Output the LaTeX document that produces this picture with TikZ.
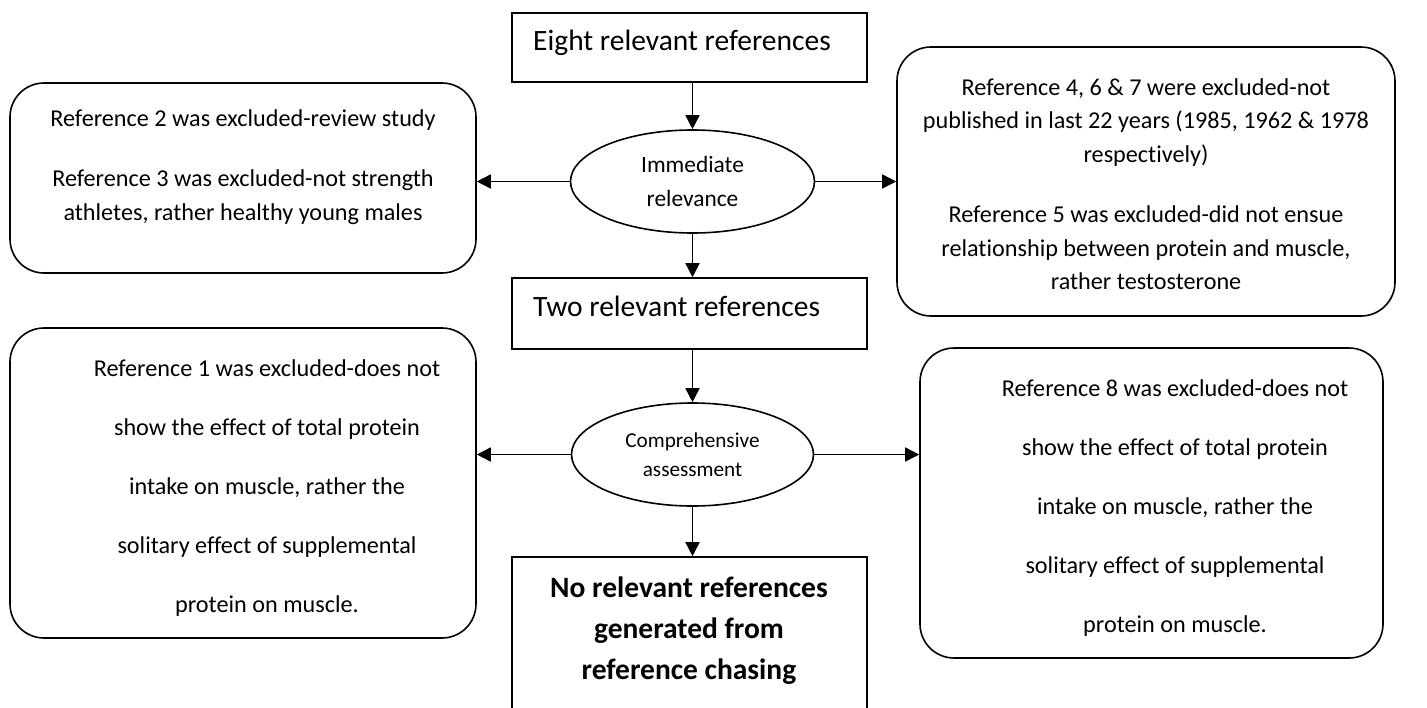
\documentclass[tikz,border=0pt]{standalone}
\usepackage{fontspec}
\setmainfont{Carlito}[Ligatures=NoCommon]
\usetikzlibrary{shapes.geometric,arrows.meta}
\begin{document}
\begin{tikzpicture}[x=1pt,y=-1pt,
  lw/.style={line width=1.6pt},
  sqbox/.style={draw,lw,rectangle,inner sep=0pt},
  rbox/.style={draw,lw,rectangle,rounded corners=34pt,inner sep=0pt},
  oval/.style={draw,lw,ellipse,inner sep=0pt,align=center},
  arr/.style={lw,-{Triangle[length=14pt,width=14pt]}},
  txt/.style={align=center,inner sep=0pt}
]
\useasboundingbox (0,0) rectangle (1427,707);
% central column
\node[sqbox,minimum width=355pt,minimum height=69pt] (top) at (689.5,47.5) {};
\node[anchor=base west,inner sep=0pt,font=\fontsize{29.5}{34}\selectfont] (toptxt) at (533,50.7) {Eight relevant references};
\node[oval,minimum width=244pt,minimum height=103pt,font=\fontsize{23.4}{33.3}\selectfont] (e1) at (692.5,181.5) {Immediate\\relevance};
\node[sqbox,minimum width=355pt,minimum height=71pt] (mid) at (689.5,313.5) {};
\node[anchor=base west,inner sep=0pt,font=\fontsize{29.5}{34}\selectfont] (midtxt) at (533,316.7) {Two relevant references};
\node[oval,minimum width=242pt,minimum height=103pt,font=\fontsize{21.2}{29.3}\selectfont] (e2) at (692.5,454.5) {Comprehensive\\assessment};
\node[sqbox,minimum width=355pt,minimum height=173pt] (bot) at (689.5,643.5) {};
\node[txt,font=\bfseries\fontsize{29.5}{41}\selectfont] (bottxt) at (689,630.5) {No relevant references\\generated from\\reference chasing};
% side boxes
\node[rbox,minimum width=466pt,minimum height=190pt] (lb1) at (243,178) {};
\node[txt,font=\fontsize{24.2}{34}\selectfont] (lb1txt) at (243,167) {Reference 2 was excluded-review study\\[26pt]Reference 3 was excluded-not strength\\athletes, rather healthy young males};
\node[rbox,minimum width=498pt,minimum height=269pt] (rb1) at (1146,181.5) {};
\node[txt,font=\fontsize{24.2}{33.5}\selectfont] (rb1txt) at (1146,184) {Reference 4, 6 \& 7 were excluded-not\\published in last 22 years (1985, 1962 \& 1978\\respectively)\\[27pt]Reference 5 was excluded-did not ensue\\relationship between protein and muscle,\\rather testosterone};
\node[rbox,minimum width=466pt,minimum height=310pt] (lb2) at (243,483) {};
\node[txt,font=\fontsize{24.2}{59}\selectfont] (lb2txt) at (267,488) {Reference 1 was excluded-does not\\show the effect of total protein\\intake on muscle, rather the\\solitary effect of supplemental\\protein on muscle.};
\node[rbox,minimum width=463pt,minimum height=310pt] (rb2) at (1151.5,503) {};
\node[txt,font=\fontsize{24.2}{59}\selectfont] (rb2txt) at (1175,508.5) {Reference 8 was excluded-does not\\show the effect of total protein\\intake on muscle, rather the\\solitary effect of supplemental\\protein on muscle.};
% connectors
\draw[arr] (top.south -| e1.north) -- (e1.north);
\draw[arr] (e1.south) -- (e1.south |- mid.north);
\draw[arr] (mid.south -| e2.north) -- (e2.north);
\draw[arr] (e2.south) -- (e2.south |- bot.north);
\draw[arr] (e1.west) -- (e1.west -| lb1.east);
\draw[arr] (e1.east) -- (e1.east -| rb1.west);
\draw[arr] (e2.west) -- (e2.west -| lb2.east);
\draw[arr] (e2.east) -- (e2.east -| rb2.west);
\end{tikzpicture}
\end{document}
